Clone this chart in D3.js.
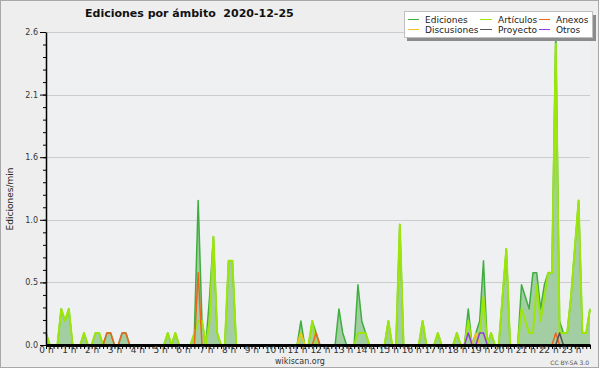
<!DOCTYPE html>
<html>
<head>
<meta charset="utf-8">
<script src="https://cdn.jsdelivr.net/npm/d3@7"></script>
<style>
  body { margin: 0; background: #fff; }
  svg { display: block; font-family: "DejaVu Sans", sans-serif; }
</style>
</head>
<body>
<div id="chart"></div>
<script>
// one value every 10 minutes (144 bins), edits per minute
const hourLabels = ["0 h", "1 h", "2 h", "3 h", "4 h", "5 h", "6 h", "7 h", "8 h", "9 h", "10 h", "11 h",
    "12 h", "13 h", "14 h", "15 h", "16 h", "17 h", "18 h", "19 h", "20 h", "21 h", "22 h", "23 h"];
const yTicks = [0, 0.52, 1.04, 1.56, 2.08, 2.6];

const ediciones = [
    0.1, 0, 0, 0, 0.3, 0.2, 0.3, 0, 0, 0, 0.1, 0,
    0, 0.1, 0.1, 0, 0.1, 0.1, 0, 0, 0.1, 0.1, 0, 0,
    0, 0, 0, 0, 0, 0, 0, 0, 0.1, 0, 0.1, 0,
    0, 0, 0, 0.1, 1.2, 0.2, 0, 0.4, 0.9, 0.1, 0, 0,
    0.7, 0.7, 0, 0, 0, 0, 0, 0, 0, 0, 0, 0,
    0, 0, 0, 0, 0, 0, 0, 0.2, 0, 0, 0.2, 0.1,
    0, 0, 0, 0, 0, 0.3, 0.1, 0, 0, 0, 0.5, 0.2,
    0.1, 0, 0, 0, 0, 0, 0.2, 0, 0, 1.0, 0, 0,
    0, 0, 0, 0.2, 0, 0, 0, 0.1, 0, 0, 0, 0,
    0.1, 0, 0, 0.3, 0, 0.1, 0.2, 0.7, 0, 0.1, 0, 0,
    0.4, 0.8, 0, 0, 0, 0.5, 0.4, 0.3, 0.6, 0.6, 0.3, 0.5,
    0.6, 0.6, 2.6, 0.2, 0.1, 0.1, 0.4, 0.8, 1.2, 0.1, 0.1, 0.3
];
const articulos = [
    0.1, 0, 0, 0, 0.3, 0.2, 0.3, 0, 0, 0, 0.1, 0,
    0, 0.1, 0.1, 0, 0, 0, 0, 0, 0, 0, 0, 0,
    0, 0, 0, 0, 0, 0, 0, 0, 0.1, 0, 0.1, 0,
    0, 0, 0, 0.1, 0.2, 0.2, 0, 0.2, 0.9, 0.1, 0, 0,
    0.7, 0.7, 0, 0, 0, 0, 0, 0, 0, 0, 0, 0,
    0, 0, 0, 0, 0, 0, 0, 0.1, 0, 0, 0.2, 0,
    0, 0, 0, 0, 0, 0, 0, 0, 0, 0, 0.1, 0.1,
    0.1, 0, 0, 0, 0, 0, 0.2, 0, 0, 1.0, 0, 0,
    0, 0, 0, 0.2, 0, 0, 0, 0.1, 0, 0, 0, 0,
    0.1, 0, 0, 0.2, 0, 0, 0.1, 0.4, 0, 0.1, 0, 0,
    0.4, 0.8, 0, 0, 0, 0.3, 0.2, 0.1, 0.1, 0.5, 0.2, 0.4,
    0.6, 0.6, 2.5, 0.1, 0.1, 0.1, 0.4, 0.8, 1.2, 0.1, 0.1, 0.3
];
const anexos = [
    0, 0, 0, 0, 0, 0, 0, 0, 0, 0, 0, 0,
    0, 0, 0, 0, 0.1, 0.1, 0, 0, 0.1, 0.1, 0, 0,
    0, 0, 0, 0, 0, 0, 0, 0, 0, 0, 0, 0,
    0, 0, 0, 0, 0.6, 0, 0, 0, 0, 0, 0, 0,
    0, 0, 0, 0, 0, 0, 0, 0, 0, 0, 0, 0,
    0, 0, 0, 0, 0, 0, 0, 0, 0, 0, 0, 0.1,
    0, 0, 0, 0, 0, 0, 0, 0, 0, 0, 0, 0,
    0, 0, 0, 0, 0, 0, 0, 0, 0, 0, 0, 0,
    0, 0, 0, 0, 0, 0, 0, 0, 0, 0, 0, 0,
    0, 0, 0, 0, 0, 0, 0, 0, 0, 0, 0, 0,
    0, 0, 0, 0, 0, 0, 0, 0, 0, 0, 0, 0,
    0, 0, 0.1, 0, 0, 0, 0, 0, 0, 0, 0, 0
];
const discusiones = [
    0, 0, 0, 0, 0, 0, 0, 0, 0, 0, 0, 0,
    0, 0, 0, 0, 0, 0, 0, 0, 0, 0, 0, 0,
    0, 0, 0, 0, 0, 0, 0, 0, 0, 0, 0, 0,
    0, 0, 0, 0, 0, 0, 0, 0, 0, 0, 0, 0,
    0, 0, 0, 0, 0, 0, 0, 0, 0, 0, 0, 0,
    0, 0, 0, 0, 0, 0, 0, 0.1, 0, 0, 0, 0,
    0, 0, 0, 0, 0, 0, 0, 0, 0, 0, 0, 0,
    0, 0, 0, 0, 0, 0, 0, 0, 0, 0, 0, 0,
    0, 0, 0, 0, 0, 0, 0, 0, 0, 0, 0, 0,
    0, 0, 0, 0, 0, 0.1, 0, 0, 0, 0, 0, 0,
    0, 0, 0, 0, 0, 0, 0, 0, 0, 0, 0, 0,
    0, 0, 0, 0, 0, 0, 0, 0, 0, 0, 0, 0
];
const proyecto = [
    0, 0, 0, 0, 0, 0, 0, 0, 0, 0, 0, 0,
    0, 0, 0, 0, 0, 0, 0, 0, 0, 0, 0, 0,
    0, 0, 0, 0, 0, 0, 0, 0, 0, 0, 0, 0,
    0, 0, 0, 0, 0, 0, 0, 0, 0, 0, 0, 0,
    0, 0, 0, 0, 0, 0, 0, 0, 0, 0, 0, 0,
    0, 0, 0, 0, 0, 0, 0, 0, 0, 0, 0, 0,
    0, 0, 0, 0, 0, 0, 0, 0, 0, 0, 0, 0,
    0, 0, 0, 0, 0, 0, 0, 0, 0, 0, 0, 0,
    0, 0, 0, 0, 0, 0, 0, 0, 0, 0, 0, 0,
    0, 0, 0, 0, 0, 0, 0, 0, 0, 0, 0, 0,
    0, 0, 0, 0, 0, 0, 0, 0, 0, 0, 0, 0,
    0, 0, 0, 0.1, 0, 0, 0, 0, 0, 0, 0, 0
];
const otros = [
    0, 0, 0, 0, 0, 0, 0, 0, 0, 0, 0, 0,
    0, 0, 0, 0, 0, 0, 0, 0, 0, 0, 0, 0,
    0, 0, 0, 0, 0, 0, 0, 0, 0, 0, 0, 0,
    0, 0, 0, 0, 0, 0, 0, 0, 0, 0, 0, 0,
    0, 0, 0, 0, 0, 0, 0, 0, 0, 0, 0, 0,
    0, 0, 0, 0, 0, 0, 0, 0, 0, 0, 0, 0,
    0, 0, 0, 0, 0, 0, 0, 0, 0, 0, 0, 0,
    0, 0, 0, 0, 0, 0, 0, 0, 0, 0, 0, 0,
    0, 0, 0, 0, 0, 0, 0, 0, 0, 0, 0, 0,
    0, 0, 0, 0.1, 0, 0, 0.1, 0.1, 0, 0, 0, 0,
    0, 0, 0, 0, 0, 0, 0, 0, 0, 0, 0, 0,
    0, 0, 0, 0, 0, 0, 0, 0, 0, 0, 0, 0
];

const series = [
    { name: "Ediciones", values: ediciones, color: "#3fae3f", width: 1.5 },
    { name: "Artículos", values: articulos, color: "#9de60a", width: 2 },
    { name: "Anexos", values: anexos, color: "#f0641e", width: 1.5 },
    { name: "Discusiones", values: discusiones, color: "#f2c422", width: 1.5 },
    { name: "Proyecto", values: proyecto, color: "#555555", width: 1.5 },
    { name: "Otros", values: otros, color: "#9437e6", width: 1.5 }
];

const width = 600, height = 370;
const margin = { top: 32, right: 10, bottom: 25, left: 46 };

const svg = d3.select("#chart").append("svg")
    .attr("width", width)
    .attr("height", height);

svg.append("rect")
    .attr("x", 0.5).attr("y", 0.5)
    .attr("width", width - 2).attr("height", height - 3)
    .attr("fill", "#eeeeee")
    .attr("stroke", "#a8a8a8");

const xScale = d3.scaleLinear()
    .domain([0, ediciones.length - 1])
    .range([margin.left, width - margin.right]);

const yScale = d3.scaleLinear()
    .domain([0, 2.6])
    .range([height - margin.bottom, margin.top]);

// plot background
svg.append("rect")
    .attr("x", xScale(0))
    .attr("y", yScale(2.6))
    .attr("width", xScale(ediciones.length - 1) - xScale(0))
    .attr("height", yScale(0) - yScale(2.6))
    .attr("fill", "#eef0f2");

// horizontal grid
svg.append("g")
    .selectAll("line")
    .data(yTicks)
    .enter()
    .append("line")
    .attr("x1", xScale(0))
    .attr("x2", xScale(ediciones.length - 1))
    .attr("y1", d => Math.round(yScale(d)) + 0.5)
    .attr("y2", d => Math.round(yScale(d)) + 0.5)
    .attr("stroke", "#cccccc");

// area under Ediciones
const area = d3.area()
    .x((d, i) => xScale(i))
    .y0(yScale(0))
    .y1(d => yScale(d));

svg.append("path")
    .datum(ediciones)
    .attr("d", area)
    .attr("fill", "#9ecb9e")
    .attr("fill-opacity", 0.95);

const line = d3.line()
    .x((d, i) => xScale(i))
    .y(d => yScale(d));

svg.selectAll("path.serie")
    .data(series)
    .enter()
    .append("path")
    .attr("class", "serie")
    .attr("d", d => line(d.values))
    .attr("fill", "none")
    .attr("stroke", d => d.color)
    .attr("stroke-width", d => d.width)
    .attr("stroke-linejoin", "round");

// y axis: minor then major ticks
const minorTicks = d3.range(0, 26).map(i => i * 0.104);
svg.append("g")
    .attr("transform", `translate(${margin.left}, 0)`)
    .call(d3.axisLeft(yScale).tickValues(minorTicks).tickSize(3).tickFormat(""))
    .call(g => g.select(".domain").remove())
    .call(g => g.selectAll("line").attr("stroke", "#000"));

const yAxis = svg.append("g")
    .attr("transform", `translate(${margin.left}, 0)`)
    .call(d3.axisLeft(yScale).tickValues(yTicks).tickSize(6).tickSizeOuter(0).tickPadding(2).tickFormat(d3.format(".1f")));
yAxis.select(".domain").attr("stroke", "#000").attr("stroke-width", 1.5);
yAxis.selectAll("text").attr("fill", "#333").style("font-size", "8px").style("font-family", "DejaVu Sans");

// x axis: a tick every 10 minutes, label every hour
const xAxis = svg.append("g")
    .attr("transform", `translate(0, ${yScale(0)})`)
    .call(d3.axisBottom(xScale)
        .tickValues(d3.range(ediciones.length))
        .tickSize(4)
        .tickSizeOuter(0)
        .tickFormat(i => i % 6 === 0 ? hourLabels[i / 6] : ""));
xAxis.select(".domain").attr("stroke", "#000").attr("stroke-width", 3);
xAxis.selectAll("line").attr("stroke", "#000");
xAxis.selectAll("text")
    .attr("y", 2)
    .attr("dy", "0.71em")
    .attr("fill", "#333")
    .style("font-size", "9px")
    .style("font-family", "DejaVu Sans");

// title
svg.append("text")
    .attr("x", 85)
    .attr("y", 17)
    .attr("fill", "#111")
    .style("font-size", "11px")
    .style("font-weight", "bold")
    .style("white-space", "pre")
    .text("Ediciones por ámbito  2020-12-25");

svg.append("text")
    .attr("transform", "rotate(-90)")
    .attr("x", -199)
    .attr("y", 13)
    .attr("text-anchor", "middle")
    .attr("fill", "#222")
    .style("font-size", "9px")
    .text("Ediciones/min");

svg.append("text")
    .attr("x", 300)
    .attr("y", 364)
    .attr("text-anchor", "middle")
    .attr("fill", "#333")
    .style("font-size", "8px")
    .text("wikiscan.org");

svg.append("text")
    .attr("x", 589)
    .attr("y", 365)
    .attr("text-anchor", "end")
    .attr("fill", "#555")
    .style("font-size", "6px")
    .text("CC BY-SA 3.0");

// legend
const legend = svg.append("g");
legend.append("rect")
    .attr("x", 407).attr("y", 15)
    .attr("width", 189).attr("height", 26)
    .attr("fill", "#8c8c8c");
legend.append("rect")
    .attr("x", 404.5).attr("y", 11.5)
    .attr("width", 188).attr("height", 26)
    .attr("fill", "#fff")
    .attr("stroke", "#c0c0c0");

const legendOrder = ["Ediciones", "Discusiones", "Artículos", "Proyecto", "Anexos", "Otros"];
const colX = [408, 480, 539];
const colW = [11, 12, 11];
const rowY = [19.5, 29.5];

legendOrder.forEach((name, k) => {
    const s = series.find(d => d.name === name);
    const col = Math.floor(k / 2), row = k % 2;
    legend.append("line")
        .attr("x1", colX[col]).attr("x2", colX[col] + colW[col])
        .attr("y1", rowY[row]).attr("y2", rowY[row])
        .attr("stroke", s.color)
        .attr("stroke-width", 1);
    legend.append("text")
        .attr("x", colX[col] + colW[col] + 6)
        .attr("y", rowY[row] + 3)
        .attr("fill", "#222")
        .style("font-size", "9px")
        .text(name);
});
</script>
</body>
</html>
